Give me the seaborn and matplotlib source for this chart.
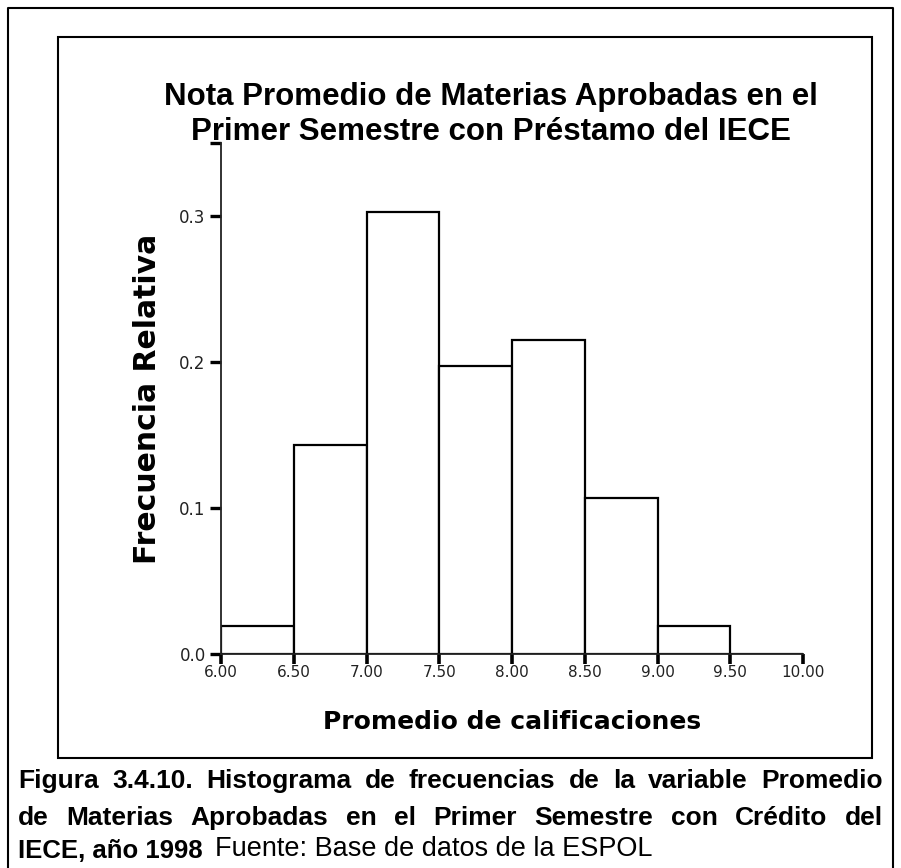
import matplotlib
matplotlib.use("Agg")
import matplotlib.pyplot as plt
import seaborn as sns
import numpy as np
from matplotlib.lines import Line2D
from matplotlib.patches import Rectangle

# ---- data ----
bin_edges = [6.0, 6.5, 7.0, 7.5, 8.0, 8.5, 9.0, 9.5, 10.0]
rel_freq = [0.019, 0.143, 0.303, 0.197, 0.215, 0.107, 0.019, 0.0]
x_ticks = [6.0, 6.5, 7.0, 7.5, 8.0, 8.5, 9.0, 9.5, 10.0]
x_tick_labels = ["6.00", "6.50", "7.00", "7.50", "8.00", "8.50", "9.00", "9.50", "10.00"]
y_ticks = [0.0, 0.1, 0.2, 0.3, 0.35]
y_tick_labels = ["0.0", "0.1", "0.2", "0.3", ""]

title_lines = ["Nota Promedio de Materias Aprobadas en el",
               "Primer Semestre con Préstamo del IECE"]
x_label = "Promedio de calificaciones"
y_label = "Frecuencia Relativa"
caption_lines = [
    "Figura 3.4.10. Histograma de frecuencias de la variable Promedio",
    "de Materias Aprobadas en el Primer Semestre con Crédito del",
]
caption_last_bold = "IECE, año 1998"
caption_source = "Fuente: Base de datos de la ESPOL"

W, H = 901, 868
sns.set_style("white")
plt.rcParams["font.family"] = ["Liberation Sans", "DejaVu Sans"]
plt.rcParams["text.color"] = "black"
plt.rcParams["axes.labelcolor"] = "black"

fig = plt.figure(figsize=(W / 100, H / 100), dpi=100)
fig.patch.set_facecolor("white")


def fx(x):
    return x / W


def fy(y):
    return 1 - y / H


# axes placement (pixels)
x0, x1 = 221, 803
y_top, y_bot = 143, 654
ax = fig.add_axes([fx(x0), fy(y_bot), fx(x1) - fx(x0), (y_bot - y_top) / H])

centers = [(a + b) / 2 for a, b in zip(bin_edges[:-1], bin_edges[1:])]
sns.histplot(x=centers, weights=rel_freq, bins=bin_edges, stat="count",
             color="white", edgecolor="black", linewidth=1.6, alpha=1,
             ax=ax)

ax.set_xlim(6.0, 10.0)
ax.set_ylim(0, 0.35)
ax.set_facecolor("white")
for s in ["top", "right"]:
    ax.spines[s].set_visible(False)
for s in ["left", "bottom"]:
    ax.spines[s].set_linewidth(1.3)
    ax.spines[s].set_color("#222222")

ax.set_xticks(x_ticks)
ax.set_xticklabels(x_tick_labels, fontsize=11, family="DejaVu Sans", color="#222222")
ax.set_yticks(y_ticks)
ax.set_yticklabels(y_tick_labels, fontsize=12, family="DejaVu Sans", color="#222222")
ax.tick_params(axis="x", bottom=True, direction="out", length=7, width=2.6, pad=1,
               color="black")
ax.tick_params(axis="y", left=True, direction="out", length=8, width=2.4, pad=3,
               color="black")

ax.set_xlabel(x_label, fontsize=18, fontweight="bold", family="DejaVu Sans")
ax.set_ylabel(y_label, fontsize=21.5, fontweight="bold", family="DejaVu Sans")
ax.xaxis.label.set_va("center")
ax.yaxis.label.set_va("center")
ax.xaxis.set_label_coords((512 - x0) / (x1 - x0), (y_bot - 722) / (y_bot - y_top))
ax.yaxis.set_label_coords((147 - x0) / (x1 - x0), (y_bot - 399) / (y_bot - y_top))

# title (centred lines)
for line, yb in zip(title_lines, [105, 140]):
    fig.text(fx(491), fy(yb), line, ha="center", va="baseline", fontsize=22.5,
             fontweight="bold")

# frames
fig.add_artist(Rectangle((fx(58), fy(758)), fx(872) - fx(58), (758 - 37) / H,
                         transform=fig.transFigure, fill=False,
                         edgecolor="black", linewidth=1.5))
fig.add_artist(Line2D([fx(8), fx(8), fx(893), fx(893)], [fy(870), fy(8), fy(8), fy(870)],
                      transform=fig.transFigure, color="black", linewidth=1.5))

# caption, justified lines
fig.canvas.draw()
renderer = fig.canvas.get_renderer()
left_px, right_px = 18, 883
cap_size = 19


def text_width(s, weight):
    t = fig.text(0, 0, s, fontsize=cap_size, fontweight=weight)
    w = t.get_window_extent(renderer=renderer).width
    t.remove()
    return w


for line, yb in zip(caption_lines, [788, 825]):
    words = line.split(" ")
    widths = [text_width(w, "bold") for w in words]
    gap = (right_px - left_px - sum(widths)) / (len(words) - 1)
    xpos = left_px
    for w, wd in zip(words, widths):
        fig.text(fx(xpos), fy(yb), w, fontsize=cap_size, fontweight="bold",
                 ha="left", va="baseline")
        xpos += wd + gap

fig.text(fx(left_px), fy(858), caption_last_bold, fontsize=cap_size - 0.5,
         fontweight="bold", ha="left", va="baseline")
fig.text(fx(215), fy(856), caption_source, fontsize=cap_size + 0.5,
         fontweight="normal", ha="left", va="baseline")

fig.savefig("out.png", dpi=100, facecolor="white")
